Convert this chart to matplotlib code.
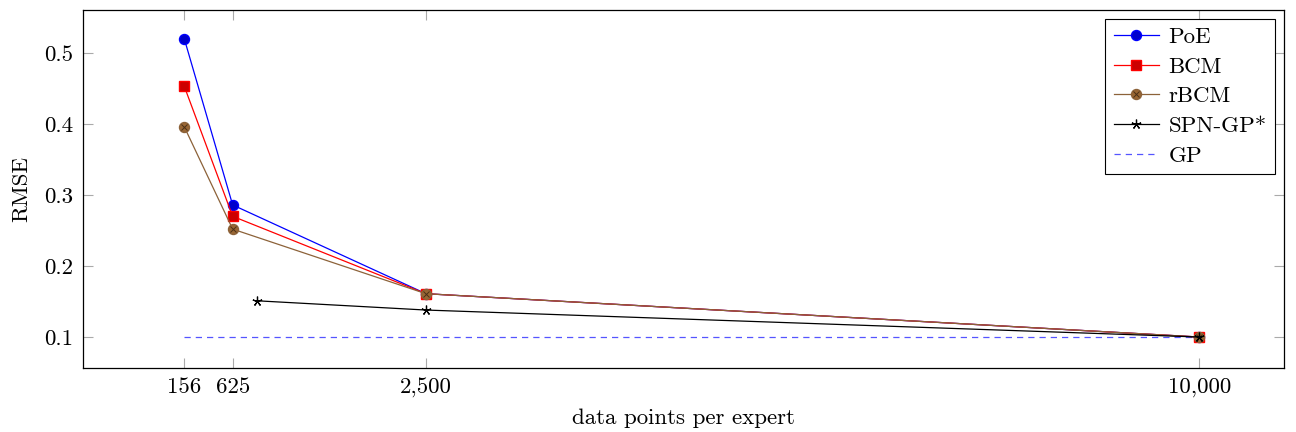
import matplotlib
matplotlib.use("Agg")
import matplotlib.pyplot as plt
from matplotlib.ticker import FixedLocator, FixedFormatter

plt.rcParams['font.family'] = ['cmr10', 'DejaVu Serif']
plt.rcParams['axes.formatter.use_mathtext'] = True
plt.rcParams['mathtext.fontset'] = 'cm'

# Data
x_experts = [156, 625, 2500, 10000]
poe = [0.52, 0.286, 0.161, 0.100]
bcm = [0.453, 0.270, 0.161, 0.100]
rbcm = [0.396, 0.252, 0.161, 0.100]
x_spn = [865, 2500, 10000]
spn_gp = [0.151, 0.138, 0.100]
x_gp = [156, 10000]
gp = [0.100, 0.100]

x_ticks = [156, 625, 2500, 10000]
x_tick_labels = ["156", "625", "2,500", "10,000"]
y_ticks = [0.1, 0.2, 0.3, 0.4, 0.5]
y_tick_labels = ["0.1", "0.2", "0.3", "0.4", "0.5"]

fs = 16.5

fig = plt.figure(figsize=(12.96, 4.32), dpi=100)
ax = fig.add_axes([0.064, 0.148, 0.9267, 0.829])

lw = 0.9
p5, = ax.plot(x_gp, gp, color='#5555FF', lw=lw, dashes=(5, 4), label='GP')
p1, = ax.plot(x_experts, poe, color='blue', lw=lw, marker='o', ms=7.2,
              mfc='#0000CC', mec='blue', label='PoE')
p2, = ax.plot(x_experts, bcm, color='red', lw=lw, marker='s', ms=6.8,
              mfc='#CC0000', mec='red', label='BCM')
p3, = ax.plot(x_experts, rbcm, color='#8C6239', lw=lw, marker='o', ms=7.2,
              mfc='#996633', mec='#8C6239', label='rBCM')
p3x, = ax.plot(x_experts, rbcm, ls='none', marker='x', ms=4.6,
               mec='#4A3018', mew=0.7)
p4, = ax.plot(x_spn, spn_gp, color='black', lw=lw, marker=(5, 2), ms=7,
              mew=0.9, label='SPN-GP*')

ax.set_xlim(-827, 10822)
ax.set_ylim(0.0563, 0.5606)

ax.xaxis.set_major_locator(FixedLocator(x_ticks))
ax.xaxis.set_major_formatter(FixedFormatter(x_tick_labels))
ax.yaxis.set_major_locator(FixedLocator(y_ticks))
ax.yaxis.set_major_formatter(FixedFormatter(y_tick_labels))
ax.tick_params(direction='in', length=7, width=0.8, color='#AAAAAA',
               labelsize=fs, top=True, right=True, pad=7)
for s in ax.spines.values():
    s.set_linewidth(0.9)

ax.set_xlabel("data points per expert", fontsize=fs, labelpad=8)
ax.set_ylabel("RMSE", fontsize=fs, labelpad=9)

leg = ax.legend([p1, p2, (p3, p3x), p4, p5],
                ['PoE', 'BCM', 'rBCM', 'SPN-GP*', 'GP'],
                loc='upper right', fontsize=fs, fancybox=False,
                edgecolor='black', framealpha=1, handlelength=2.0,
                borderaxespad=0.4, labelspacing=0.42, handletextpad=0.4,
                borderpad=0.35)
leg.get_frame().set_linewidth(0.8)

fig.savefig("out.png", dpi=100)
